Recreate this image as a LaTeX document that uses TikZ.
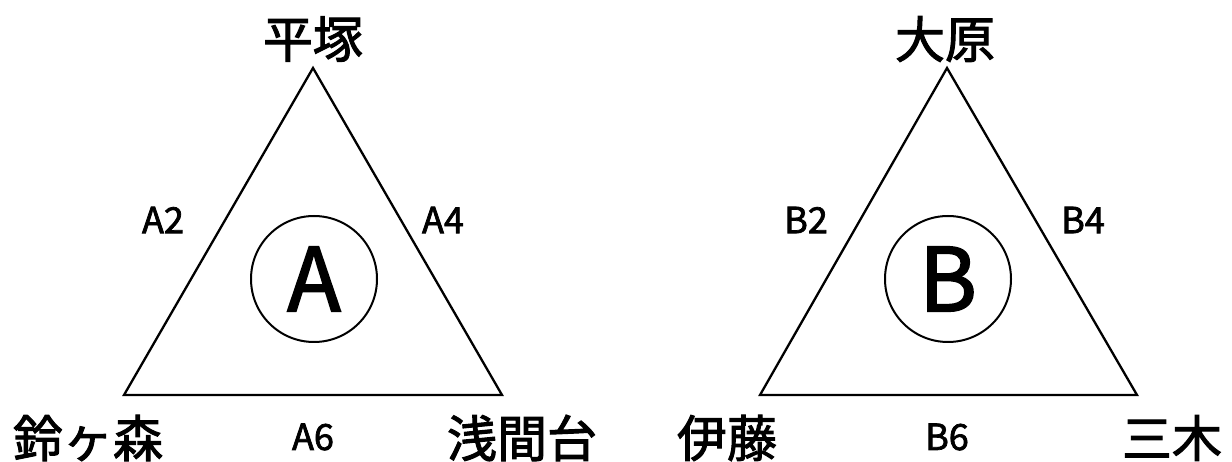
\documentclass[tikz,border=0pt]{standalone}
\usepackage{fontspec}
\setmainfont{Noto Sans CJK JP}
\newfontfamily\cjkmed[FakeBold=2]{Noto Sans CJK JP}
\begin{document}
\begin{tikzpicture}[x=1pt,y=-1pt,
  tri/.style={line width=2.3pt, line join=miter},
  ring/.style={circle, draw, line width=2pt, minimum size=126pt, inner sep=0pt, font=\cjkmed\fontsize{88}{88}\selectfont},
  place/.style={font=\cjkmed\fontsize{50}{50}\selectfont, inner sep=0pt},
  edge/.style={font=\cjkmed\fontsize{36}{36}\selectfont, inner sep=0pt}]
\useasboundingbox (0,0) rectangle (1232,462);
% Triangle A
\coordinate (a1) at (313,68);
\coordinate (a2) at (124,395);
\coordinate (a3) at (502,395);
\draw[tri] (a1) -- (a2) -- (a3) -- cycle;
\node[ring] (ca) at (314,279) {A};
\node[place] (pa1) at (313,39) {平塚};
\node[place] (pa2) at (88,438) {鈴ヶ森};
\node[place] (pa3) at (522,438) {浅間台};
\node[edge] (ea2) at (163,220) {A2};
\node[edge] (ea4) at (443,220) {A4};
\node[edge] (ea6) at (313,437) {A6};
% Triangle B
\coordinate (b1) at (947,68);
\coordinate (b2) at (760,395);
\coordinate (b3) at (1137,395);
\draw[tri] (b1) -- (b2) -- (b3) -- cycle;
\node[ring] (cb) at (948,279) {B};
\node[place] (pb1) at (945,39) {大原};
\node[place] (pb2) at (727,438) {伊藤};
\node[place] (pb3) at (1172,438) {三木};
\node[edge] (eb2) at (806,220) {B2};
\node[edge] (eb4) at (1083,220) {B4};
\node[edge] (eb6) at (947,437) {B6};
\end{tikzpicture}
\end{document}
